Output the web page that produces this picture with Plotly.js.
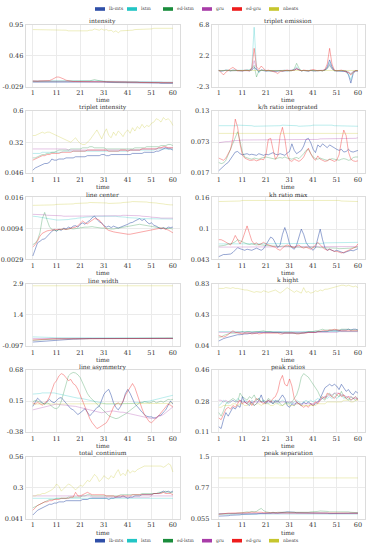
<!DOCTYPE html>
<html><head><meta charset="utf-8">
<script src="https://cdn.plot.ly/plotly-3.0.1.min.js"></script>
<style>html,body{margin:0;padding:0;background:#fff}#chart{width:371px;height:550px}</style>
</head><body><div id="chart"></div>
<script>
const time = [1,2,3,4,5,6,7,8,9,10,11,12,13,14,15,16,17,18,19,20,21,22,23,24,25,26,27,28,29,30,31,32,33,34,35,36,37,38,39,40,41,42,43,44,45,46,47,48,49,50,51,52,53,54,55,56,57,58,59,60];
const seriesNames = ['lb-mts','lstm','ed-lstm','gru','ed-gru','nbeats'];
const xTicks = [1,11,21,31,41,51,60];

// intensity
const intensity_ticks = [-0.029, 0.46, 0.95];
const int_lbmts = [0.04,0.04,0.04,0.04,0.04,0.04,0.04,0.04,0.045,0.05,0.05,0.045,0.04,0.04,0.04,0.04,0.04,0.04,0.04,0.04,0.04,0.04,0.04,0.04,0.045,0.05,0.05,0.045,0.04,0.04,0.04,0.035,0.035,0.03,0.03,0.03,0.03,0.035,0.03,0.03,0.03,0.03,0.03,0.03,0.03,0.03,0.03,0.03,0.03,0.03,0.025,0.025,0.025,0.025,0.02,0.02,0.02,0.02,0.02,0.02];
const int_lstm = [0.06,0.06,0.06,0.06,0.06,0.06,0.06,0.06,0.06,0.065,0.07,0.07,0.065,0.06,0.06,0.06,0.06,0.06,0.06,0.06,0.06,0.06,0.06,0.06,0.06,0.065,0.065,0.06,0.06,0.06,0.055,0.055,0.055,0.05,0.05,0.05,0.05,0.05,0.05,0.05,0.05,0.05,0.05,0.05,0.05,0.05,0.05,0.045,0.045,0.045,0.045,0.045,0.045,0.045,0.045,0.04,0.04,0.04,0.04,0.04];
const int_edlstm = [0.05,0.05,0.05,0.05,0.05,0.05,0.05,0.05,0.05,0.05,0.05,0.05,0.05,0.05,0.05,0.05,0.05,0.05,0.05,0.05,0.05,0.05,0.05,0.055,0.06,0.07,0.08,0.07,0.06,0.05,0.05,0.05,0.045,0.045,0.045,0.04,0.04,0.04,0.04,0.04,0.04,0.04,0.04,0.04,0.04,0.04,0.04,0.04,0.04,0.04,0.04,0.035,0.035,0.035,0.035,0.035,0.035,0.03,0.03,0.03];
const int_gru = [0.055,0.055,0.055,0.055,0.055,0.055,0.055,0.055,0.055,0.055,0.055,0.055,0.055,0.05,0.05,0.05,0.05,0.05,0.05,0.05,0.05,0.05,0.05,0.05,0.05,0.05,0.05,0.05,0.05,0.05,0.045,0.045,0.045,0.045,0.045,0.045,0.045,0.045,0.045,0.045,0.04,0.04,0.04,0.04,0.04,0.04,0.04,0.04,0.04,0.04,0.035,0.035,0.035,0.035,0.035,0.035,0.035,0.035,0.035,0.035];
const int_edgru = [0.06,0.055,0.055,0.06,0.06,0.06,0.06,0.065,0.08,0.1,0.12,0.12,0.11,0.09,0.07,0.06,0.055,0.05,0.05,0.05,0.05,0.05,0.05,0.05,0.05,0.05,0.05,0.05,0.05,0.05,0.045,0.045,0.045,0.045,0.045,0.045,0.04,0.04,0.04,0.04,0.04,0.04,0.04,0.04,0.04,0.035,0.035,0.035,0.035,0.035,0.03,0.03,0.03,0.03,0.03,0.03,0.03,0.03,0.03,0.03];
const int_nbeats = [0.87,0.87,0.87,0.86,0.87,0.87,0.87,0.87,0.86,0.86,0.86,0.87,0.86,0.86,0.86,0.85,0.85,0.85,0.84,0.84,0.84,0.84,0.85,0.85,0.86,0.86,0.88,0.87,0.86,0.88,0.86,0.87,0.85,0.86,0.83,0.85,0.82,0.85,0.85,0.85,0.86,0.86,0.86,0.87,0.87,0.87,0.87,0.88,0.88,0.88,0.88,0.89,0.89,0.89,0.89,0.89,0.89,0.89,0.89,0.89];

// triplet emission
const emission_ticks = [-2.3, 2.2, 6.8];
const te_lbmts = [0.05,-0.05,0.0,0.1,0.05,0.0,0.1,0.05,0.0,-0.05,0.0,0.05,0.1,0.0,0.1,0.5,0.2,-0.1,0.1,0.0,-0.05,0.0,0.05,0.0,-0.1,0.0,0.05,-0.05,0.0,0.05,0.0,0.05,0.1,0.3,0.1,0.0,0.05,0.0,-0.05,0.05,0.0,0.0,0.05,0.0,0.05,0.1,0.6,1.6,0.6,0.05,0.0,0.05,0.0,-0.1,0.0,-0.6,-1.8,-0.4,0.0,-0.05];
const te_lstm = [0.1,0.0,0.05,0.05,0.1,0.05,0.0,0.05,0.1,0.0,0.05,0.1,0.05,0.1,0.5,6.4,0.3,-0.3,0.1,0.05,0.0,0.05,0.0,0.05,0.0,0.05,0.0,0.05,0.1,0.0,0.0,0.05,0.2,0.6,0.2,0.0,0.05,0.0,0.05,0.1,0.0,0.05,0.0,0.05,0.0,0.1,0.4,1.2,0.4,0.0,0.05,0.0,0.05,0.0,-0.2,-0.5,-1.3,-0.2,0.05,0.0];
const te_edlstm = [0.0,0.05,0.0,0.05,0.1,0.0,0.05,0.0,0.05,0.0,0.05,0.0,0.05,0.1,0.3,0.8,-0.9,0.0,0.1,0.05,0.0,0.05,0.0,-0.05,0.05,0.0,0.05,0.0,0.05,0.0,0.05,0.0,0.3,1.1,0.4,0.0,0.05,0.0,0.0,0.05,0.0,0.05,0.0,0.05,0.0,0.1,0.3,0.8,0.3,0.0,0.05,0.0,0.0,0.05,-0.1,-0.2,-0.5,-0.1,0.0,0.05];
const te_gru = [0.05,0.05,0.0,0.05,0.05,0.1,0.05,0.0,0.05,0.05,0.0,0.05,0.05,0.0,0.2,1.5,0.3,0.0,0.1,0.05,0.0,0.05,0.05,0.0,0.05,0.0,0.05,0.05,0.0,0.05,0.05,0.0,0.1,0.4,0.1,0.05,0.0,0.05,0.05,0.0,0.05,0.0,0.05,0.05,0.0,0.1,0.4,1.0,0.3,0.05,0.0,0.05,0.05,0.0,-0.05,-0.2,-0.4,-0.1,0.0,0.05];
const te_edgru = [0.1,-0.2,-0.6,-0.2,0.1,0.3,0.5,0.2,0.0,0.05,0.0,0.1,0.05,0.0,0.4,3.3,0.6,0.2,0.7,0.3,0.0,0.1,0.05,-0.1,-0.2,-0.4,-0.1,0.0,0.05,0.1,0.0,0.05,0.1,0.3,0.1,0.0,0.1,0.05,0.0,0.1,0.2,0.1,0.0,0.05,0.0,0.2,1.0,3.3,1.0,0.1,0.0,0.05,0.1,0.0,-0.1,-0.3,-0.6,-0.2,0.05,0.0];
const te_nbeats = [0.05,0.05,0.0,0.05,0.05,0.05,0.1,0.05,0.05,0.0,0.05,0.05,0.05,0.05,0.1,0.1,0.05,0.05,0.05,0.0,0.05,0.05,0.05,0.05,0.05,0.0,0.05,0.05,0.05,0.05,0.05,0.05,0.05,0.1,0.05,0.05,0.05,0.0,0.05,0.05,0.05,0.05,0.05,0.05,0.05,0.05,0.1,0.1,0.05,0.05,0.05,0.05,0.05,0.0,0.05,0.0,0.0,0.05,0.05,0.05];

// triplet intensity
const tint_ticks = [0.046, 0.32, 0.6];
const ti_lbmts = [0.07,0.09,0.10,0.11,0.12,0.13,0.13,0.14,0.17,0.16,0.16,0.17,0.17,0.17,0.18,0.18,0.18,0.18,0.19,0.19,0.19,0.19,0.19,0.20,0.20,0.20,0.20,0.20,0.20,0.21,0.21,0.20,0.20,0.21,0.21,0.21,0.21,0.21,0.21,0.21,0.21,0.21,0.22,0.22,0.22,0.22,0.22,0.23,0.23,0.23,0.23,0.23,0.24,0.24,0.25,0.26,0.27,0.26,0.26,0.25];
const ti_lstm = [0.22,0.22,0.22,0.22,0.23,0.23,0.23,0.23,0.23,0.23,0.23,0.23,0.23,0.24,0.24,0.24,0.24,0.24,0.24,0.24,0.24,0.24,0.24,0.24,0.24,0.24,0.24,0.24,0.24,0.24,0.24,0.24,0.24,0.24,0.24,0.24,0.24,0.24,0.24,0.24,0.24,0.25,0.25,0.25,0.25,0.25,0.25,0.25,0.25,0.25,0.25,0.25,0.26,0.26,0.26,0.26,0.26,0.26,0.26,0.26];
const ti_edlstm = [0.18,0.18,0.19,0.20,0.21,0.21,0.22,0.22,0.23,0.23,0.24,0.25,0.25,0.25,0.25,0.25,0.26,0.26,0.26,0.26,0.26,0.27,0.27,0.27,0.28,0.28,0.27,0.27,0.27,0.27,0.27,0.26,0.26,0.26,0.26,0.26,0.26,0.26,0.26,0.26,0.26,0.26,0.26,0.27,0.27,0.27,0.27,0.27,0.28,0.28,0.28,0.28,0.28,0.28,0.29,0.29,0.29,0.30,0.30,0.29];
const ti_gru = [0.26,0.26,0.26,0.26,0.26,0.26,0.26,0.26,0.26,0.26,0.26,0.26,0.26,0.26,0.26,0.25,0.25,0.25,0.25,0.25,0.25,0.25,0.25,0.25,0.25,0.25,0.25,0.25,0.25,0.25,0.25,0.25,0.25,0.25,0.25,0.25,0.25,0.25,0.25,0.25,0.25,0.25,0.25,0.25,0.25,0.25,0.26,0.26,0.26,0.26,0.26,0.26,0.26,0.27,0.27,0.27,0.27,0.27,0.27,0.27];
const ti_edgru = [0.16,0.17,0.18,0.19,0.20,0.20,0.21,0.21,0.22,0.22,0.22,0.22,0.23,0.23,0.23,0.23,0.23,0.24,0.24,0.24,0.24,0.24,0.24,0.25,0.25,0.25,0.25,0.25,0.25,0.25,0.25,0.25,0.24,0.24,0.24,0.24,0.24,0.25,0.25,0.25,0.24,0.25,0.25,0.25,0.25,0.25,0.26,0.26,0.26,0.26,0.26,0.26,0.26,0.27,0.27,0.28,0.28,0.27,0.27,0.27];
const ti_nbeats = [0.38,0.38,0.39,0.40,0.41,0.40,0.41,0.41,0.40,0.39,0.38,0.37,0.36,0.35,0.34,0.33,0.32,0.34,0.36,0.33,0.31,0.30,0.30,0.32,0.34,0.37,0.40,0.43,0.39,0.35,0.40,0.44,0.38,0.36,0.41,0.38,0.42,0.40,0.37,0.41,0.43,0.40,0.45,0.42,0.46,0.44,0.48,0.45,0.47,0.46,0.49,0.50,0.53,0.52,0.50,0.54,0.52,0.53,0.51,0.47];

// k/h ratio integrated
const khi_ticks = [0.017, 0.073, 0.13];
const khi_lbmts = [0.021,0.025,0.030,0.033,0.036,0.042,0.048,0.055,0.056,0.052,0.050,0.051,0.052,0.050,0.051,0.050,0.049,0.052,0.050,0.049,0.051,0.050,0.052,0.054,0.051,0.050,0.052,0.051,0.049,0.053,0.056,0.070,0.058,0.052,0.055,0.058,0.066,0.078,0.080,0.072,0.060,0.054,0.068,0.064,0.070,0.066,0.063,0.068,0.065,0.062,0.060,0.058,0.060,0.055,0.056,0.060,0.056,0.055,0.057,0.058];
const khi_lstm = [0.103,0.103,0.103,0.102,0.102,0.102,0.103,0.103,0.104,0.104,0.104,0.104,0.103,0.103,0.103,0.102,0.102,0.102,0.103,0.103,0.103,0.102,0.102,0.102,0.102,0.103,0.103,0.104,0.104,0.104,0.104,0.103,0.103,0.103,0.102,0.102,0.102,0.102,0.103,0.103,0.104,0.104,0.104,0.105,0.105,0.105,0.104,0.104,0.104,0.103,0.103,0.103,0.103,0.102,0.102,0.102,0.102,0.102,0.102,0.102];
const khi_edlstm = [0.036,0.034,0.035,0.040,0.050,0.060,0.070,0.080,0.092,0.075,0.055,0.046,0.044,0.043,0.042,0.044,0.043,0.042,0.044,0.045,0.046,0.045,0.044,0.043,0.042,0.044,0.045,0.044,0.046,0.044,0.043,0.042,0.044,0.045,0.043,0.047,0.052,0.058,0.060,0.052,0.046,0.043,0.042,0.044,0.042,0.041,0.040,0.041,0.043,0.042,0.041,0.040,0.042,0.043,0.042,0.040,0.041,0.045,0.046,0.046];
const khi_gru = [0.072,0.073,0.073,0.074,0.074,0.075,0.075,0.076,0.076,0.077,0.077,0.077,0.077,0.077,0.077,0.077,0.077,0.078,0.078,0.078,0.078,0.078,0.078,0.078,0.078,0.078,0.078,0.078,0.078,0.078,0.078,0.078,0.078,0.078,0.078,0.078,0.078,0.078,0.078,0.078,0.078,0.078,0.078,0.079,0.079,0.079,0.079,0.079,0.079,0.079,0.079,0.079,0.079,0.080,0.080,0.080,0.080,0.080,0.080,0.081];
const khi_edgru = [0.044,0.042,0.040,0.044,0.052,0.060,0.080,0.115,0.100,0.070,0.050,0.044,0.042,0.040,0.040,0.041,0.039,0.040,0.042,0.041,0.050,0.078,0.080,0.060,0.042,0.048,0.085,0.100,0.080,0.050,0.040,0.038,0.042,0.040,0.038,0.041,0.046,0.055,0.062,0.052,0.044,0.040,0.048,0.042,0.040,0.038,0.039,0.042,0.040,0.038,0.040,0.050,0.075,0.095,0.085,0.055,0.042,0.039,0.038,0.039];
const khi_nbeats = [0.089,0.089,0.089,0.089,0.089,0.089,0.089,0.089,0.089,0.089,0.089,0.089,0.089,0.089,0.089,0.088,0.088,0.088,0.088,0.088,0.088,0.088,0.088,0.088,0.088,0.088,0.089,0.089,0.089,0.089,0.089,0.089,0.089,0.089,0.089,0.089,0.089,0.089,0.089,0.089,0.089,0.089,0.089,0.089,0.089,0.089,0.089,0.089,0.089,0.089,0.089,0.089,0.089,0.089,0.089,0.089,0.089,0.089,0.089,0.089];

// line center
const lc_ticks = [0.0029, 0.0094, 0.016];
const lc_lbmts = [0.0036,0.0050,0.0064,0.0067,0.0071,0.0072,0.0078,0.0083,0.0088,0.0092,0.0088,0.0093,0.0090,0.0095,0.0093,0.0097,0.0095,0.0099,0.0100,0.0097,0.0103,0.0106,0.0103,0.0108,0.0111,0.0117,0.0120,0.0114,0.0108,0.0106,0.0100,0.0097,0.0099,0.0096,0.0099,0.0097,0.0095,0.0097,0.0099,0.0100,0.0103,0.0106,0.0107,0.0110,0.0113,0.0115,0.0111,0.0114,0.0108,0.0104,0.0106,0.0101,0.0099,0.0095,0.0093,0.0096,0.0093,0.0097,0.0096,0.0097];
const lc_lstm = [0.0120,0.0120,0.0119,0.0118,0.0117,0.0116,0.0115,0.0114,0.0113,0.0113,0.0112,0.0112,0.0112,0.0112,0.0113,0.0113,0.0114,0.0114,0.0115,0.0116,0.0116,0.0117,0.0118,0.0118,0.0119,0.0119,0.0120,0.0120,0.0121,0.0121,0.0121,0.0121,0.0121,0.0120,0.0120,0.0120,0.0119,0.0119,0.0118,0.0118,0.0117,0.0117,0.0116,0.0116,0.0116,0.0115,0.0115,0.0115,0.0115,0.0115,0.0115,0.0115,0.0115,0.0115,0.0115,0.0115,0.0115,0.0114,0.0114,0.0114];
const lc_edlstm = [0.0060,0.0063,0.0070,0.0085,0.0115,0.0128,0.0112,0.0098,0.0092,0.0090,0.0090,0.0091,0.0092,0.0093,0.0092,0.0093,0.0094,0.0093,0.0094,0.0095,0.0095,0.0096,0.0097,0.0097,0.0098,0.0098,0.0097,0.0096,0.0096,0.0095,0.0095,0.0094,0.0094,0.0093,0.0093,0.0094,0.0094,0.0095,0.0096,0.0097,0.0098,0.0099,0.0100,0.0101,0.0102,0.0103,0.0102,0.0101,0.0100,0.0099,0.0098,0.0097,0.0096,0.0096,0.0095,0.0095,0.0094,0.0094,0.0094,0.0093];
const lc_gru = [0.0124,0.0124,0.0124,0.0123,0.0123,0.0123,0.0122,0.0122,0.0122,0.0121,0.0121,0.0121,0.0121,0.0120,0.0120,0.0120,0.0120,0.0120,0.0120,0.0120,0.0120,0.0120,0.0121,0.0121,0.0121,0.0121,0.0121,0.0121,0.0121,0.0121,0.0121,0.0121,0.0121,0.0121,0.0121,0.0121,0.0121,0.0121,0.0122,0.0122,0.0122,0.0122,0.0122,0.0122,0.0121,0.0121,0.0120,0.0120,0.0119,0.0119,0.0118,0.0118,0.0117,0.0117,0.0116,0.0116,0.0116,0.0116,0.0116,0.0116];
const lc_edgru = [0.0055,0.0060,0.0068,0.0078,0.0084,0.0087,0.0089,0.0090,0.0091,0.0092,0.0092,0.0092,0.0093,0.0093,0.0092,0.0093,0.0094,0.0095,0.0097,0.0100,0.0105,0.0110,0.0106,0.0104,0.0108,0.0112,0.0115,0.0114,0.0112,0.0105,0.0098,0.0093,0.0090,0.0088,0.0087,0.0086,0.0085,0.0084,0.0083,0.0083,0.0082,0.0082,0.0083,0.0084,0.0085,0.0086,0.0087,0.0088,0.0089,0.0090,0.0091,0.0092,0.0093,0.0094,0.0095,0.0094,0.0093,0.0091,0.0088,0.0085];
const lc_nbeats = [0.0143,0.0143,0.0143,0.0143,0.0143,0.0144,0.0144,0.0144,0.0144,0.0144,0.0145,0.0145,0.0145,0.0145,0.0146,0.0146,0.0146,0.0146,0.0147,0.0147,0.0147,0.0148,0.0148,0.0148,0.0149,0.0149,0.0149,0.0149,0.0149,0.0148,0.0148,0.0148,0.0147,0.0147,0.0147,0.0147,0.0148,0.0148,0.0149,0.0149,0.0150,0.0150,0.0151,0.0151,0.0151,0.0151,0.0151,0.0150,0.0150,0.0149,0.0149,0.0148,0.0148,0.0147,0.0147,0.0146,0.0145,0.0144,0.0144,0.0144];

// kh ratio max
const khm_ticks = [0.043, 0.1, 0.16];
const khm_lbmts = [0.048,0.050,0.052,0.052,0.053,0.053,0.056,0.060,0.065,0.063,0.061,0.060,0.062,0.061,0.060,0.062,0.064,0.062,0.060,0.063,0.070,0.078,0.085,0.082,0.072,0.065,0.070,0.090,0.103,0.090,0.072,0.065,0.062,0.070,0.085,0.100,0.090,0.075,0.068,0.063,0.060,0.065,0.085,0.100,0.080,0.065,0.060,0.062,0.060,0.058,0.060,0.058,0.056,0.055,0.057,0.058,0.060,0.059,0.061,0.063];
const khm_lstm = [0.072,0.072,0.072,0.072,0.073,0.073,0.073,0.073,0.073,0.073,0.073,0.073,0.073,0.073,0.073,0.073,0.073,0.073,0.073,0.072,0.072,0.072,0.072,0.072,0.072,0.072,0.072,0.072,0.072,0.072,0.072,0.072,0.072,0.072,0.072,0.073,0.073,0.073,0.073,0.073,0.073,0.073,0.073,0.073,0.073,0.074,0.074,0.074,0.074,0.074,0.074,0.074,0.075,0.075,0.075,0.075,0.075,0.075,0.075,0.075];
const khm_edlstm = [0.068,0.068,0.069,0.070,0.072,0.072,0.074,0.076,0.080,0.078,0.075,0.073,0.072,0.071,0.072,0.071,0.070,0.071,0.070,0.070,0.069,0.069,0.068,0.068,0.068,0.067,0.067,0.068,0.068,0.067,0.067,0.066,0.066,0.066,0.066,0.067,0.067,0.066,0.066,0.066,0.066,0.066,0.066,0.065,0.065,0.065,0.065,0.064,0.064,0.064,0.064,0.063,0.063,0.063,0.063,0.064,0.064,0.065,0.066,0.066];
const khm_gru = [0.066,0.066,0.066,0.066,0.066,0.066,0.066,0.066,0.066,0.066,0.066,0.066,0.066,0.066,0.066,0.066,0.066,0.066,0.066,0.066,0.066,0.066,0.066,0.066,0.066,0.066,0.066,0.066,0.066,0.066,0.066,0.066,0.066,0.066,0.066,0.066,0.066,0.066,0.066,0.066,0.066,0.066,0.066,0.066,0.066,0.066,0.066,0.066,0.066,0.066,0.066,0.066,0.066,0.066,0.066,0.066,0.066,0.067,0.067,0.067];
const khm_edgru = [0.080,0.080,0.078,0.075,0.072,0.070,0.078,0.088,0.080,0.072,0.080,0.095,0.106,0.092,0.078,0.072,0.074,0.070,0.072,0.075,0.072,0.070,0.068,0.067,0.066,0.062,0.060,0.065,0.068,0.070,0.068,0.066,0.065,0.068,0.070,0.066,0.064,0.066,0.064,0.062,0.065,0.070,0.075,0.070,0.065,0.062,0.060,0.062,0.060,0.058,0.058,0.056,0.055,0.056,0.058,0.060,0.062,0.063,0.066,0.072];
const khm_nbeats = [0.152,0.152,0.152,0.152,0.153,0.153,0.153,0.153,0.153,0.153,0.154,0.154,0.154,0.154,0.154,0.155,0.155,0.155,0.155,0.155,0.155,0.155,0.155,0.155,0.155,0.155,0.155,0.155,0.155,0.155,0.155,0.155,0.155,0.155,0.154,0.154,0.154,0.154,0.154,0.154,0.154,0.154,0.154,0.154,0.154,0.154,0.154,0.154,0.154,0.154,0.154,0.154,0.153,0.153,0.153,0.153,0.153,0.152,0.152,0.152];

// line width
const lw_ticks = [-0.097, 1.4, 2.9];
const lw_lbmts = [0.08,0.09,0.10,0.11,0.12,0.13,0.14,0.15,0.16,0.17,0.18,0.19,0.19,0.20,0.20,0.21,0.21,0.22,0.22,0.23,0.23,0.23,0.24,0.24,0.25,0.25,0.25,0.25,0.25,0.25,0.25,0.25,0.25,0.25,0.25,0.25,0.25,0.25,0.25,0.25,0.25,0.25,0.25,0.25,0.25,0.25,0.25,0.25,0.25,0.25,0.25,0.25,0.25,0.25,0.25,0.25,0.25,0.25,0.25,0.25];
const lw_lstm = [0.33,0.33,0.32,0.32,0.31,0.31,0.30,0.30,0.30,0.29,0.29,0.29,0.29,0.28,0.28,0.28,0.28,0.28,0.28,0.28,0.28,0.28,0.28,0.28,0.28,0.28,0.28,0.28,0.28,0.28,0.28,0.28,0.28,0.28,0.28,0.28,0.28,0.28,0.28,0.28,0.28,0.28,0.28,0.28,0.28,0.28,0.28,0.28,0.28,0.28,0.28,0.28,0.28,0.28,0.28,0.28,0.28,0.28,0.28,0.28];
const lw_edlstm = [0.16,0.17,0.18,0.19,0.20,0.21,0.21,0.22,0.22,0.23,0.23,0.24,0.24,0.24,0.25,0.25,0.25,0.26,0.26,0.26,0.26,0.26,0.26,0.27,0.27,0.27,0.27,0.27,0.27,0.27,0.27,0.27,0.27,0.27,0.27,0.27,0.27,0.27,0.27,0.27,0.27,0.27,0.27,0.27,0.27,0.27,0.27,0.27,0.27,0.27,0.27,0.27,0.27,0.27,0.27,0.27,0.27,0.27,0.27,0.27];
const lw_gru = [0.25,0.25,0.25,0.25,0.25,0.25,0.25,0.25,0.25,0.25,0.25,0.25,0.25,0.25,0.25,0.25,0.25,0.25,0.25,0.25,0.25,0.25,0.25,0.25,0.25,0.25,0.25,0.25,0.25,0.25,0.25,0.25,0.25,0.25,0.25,0.25,0.25,0.25,0.25,0.25,0.25,0.25,0.25,0.25,0.25,0.25,0.25,0.25,0.25,0.25,0.25,0.25,0.25,0.25,0.25,0.25,0.25,0.25,0.25,0.25];
const lw_edgru = [0.18,0.19,0.19,0.20,0.21,0.21,0.22,0.22,0.23,0.23,0.23,0.24,0.24,0.24,0.24,0.25,0.25,0.25,0.25,0.25,0.25,0.26,0.26,0.26,0.26,0.26,0.26,0.26,0.26,0.26,0.26,0.26,0.26,0.26,0.26,0.26,0.26,0.26,0.26,0.26,0.26,0.26,0.26,0.26,0.26,0.26,0.26,0.26,0.26,0.26,0.26,0.26,0.26,0.26,0.26,0.26,0.26,0.26,0.26,0.26];
const lw_nbeats = [2.80,2.80,2.80,2.80,2.80,2.80,2.80,2.80,2.81,2.81,2.81,2.81,2.81,2.81,2.81,2.81,2.81,2.81,2.81,2.81,2.81,2.81,2.81,2.81,2.81,2.81,2.81,2.81,2.81,2.81,2.81,2.81,2.81,2.81,2.81,2.81,2.81,2.80,2.80,2.80,2.80,2.80,2.79,2.79,2.79,2.78,2.78,2.78,2.78,2.78,2.78,2.78,2.79,2.79,2.79,2.79,2.80,2.80,2.80,2.80];

// k hight
const kh_ticks = [0.04, 0.43, 0.83];
const kh_lbmts = [0.10,0.12,0.13,0.14,0.15,0.16,0.17,0.17,0.18,0.18,0.19,0.19,0.19,0.20,0.20,0.20,0.20,0.21,0.21,0.21,0.21,0.21,0.21,0.21,0.21,0.21,0.21,0.20,0.20,0.20,0.20,0.20,0.20,0.20,0.20,0.20,0.20,0.21,0.21,0.21,0.21,0.21,0.22,0.22,0.22,0.22,0.22,0.23,0.23,0.23,0.23,0.23,0.24,0.24,0.24,0.25,0.24,0.25,0.25,0.24];
const kh_lstm = [0.22,0.22,0.22,0.22,0.22,0.22,0.22,0.22,0.22,0.22,0.22,0.22,0.22,0.22,0.22,0.22,0.22,0.22,0.22,0.22,0.22,0.22,0.22,0.22,0.22,0.22,0.22,0.22,0.22,0.22,0.22,0.22,0.22,0.22,0.22,0.22,0.22,0.22,0.22,0.22,0.22,0.22,0.22,0.22,0.22,0.22,0.22,0.22,0.22,0.22,0.22,0.22,0.22,0.22,0.22,0.22,0.22,0.22,0.22,0.22];
const kh_edlstm = [0.15,0.15,0.17,0.18,0.19,0.20,0.20,0.20,0.21,0.21,0.22,0.21,0.22,0.22,0.21,0.22,0.22,0.22,0.23,0.23,0.22,0.22,0.22,0.21,0.21,0.21,0.21,0.21,0.21,0.21,0.21,0.21,0.20,0.20,0.20,0.20,0.21,0.21,0.22,0.22,0.22,0.23,0.23,0.24,0.25,0.24,0.24,0.24,0.24,0.24,0.24,0.24,0.25,0.25,0.25,0.25,0.24,0.24,0.24,0.24];
const kh_gru = [0.21,0.21,0.21,0.21,0.21,0.21,0.21,0.21,0.21,0.21,0.21,0.21,0.21,0.21,0.21,0.21,0.21,0.21,0.21,0.21,0.21,0.21,0.21,0.21,0.21,0.21,0.21,0.21,0.21,0.21,0.21,0.21,0.21,0.21,0.21,0.21,0.21,0.21,0.21,0.21,0.21,0.21,0.21,0.21,0.21,0.21,0.21,0.21,0.21,0.21,0.21,0.22,0.22,0.22,0.22,0.22,0.22,0.22,0.22,0.22];
const kh_edgru = [0.17,0.16,0.15,0.16,0.18,0.20,0.23,0.21,0.20,0.19,0.19,0.20,0.20,0.20,0.19,0.20,0.20,0.19,0.20,0.20,0.20,0.20,0.20,0.20,0.20,0.20,0.19,0.19,0.20,0.20,0.20,0.20,0.20,0.19,0.19,0.20,0.20,0.20,0.21,0.21,0.21,0.21,0.22,0.22,0.23,0.23,0.23,0.24,0.24,0.25,0.24,0.24,0.23,0.23,0.23,0.23,0.23,0.23,0.23,0.23];
const kh_nbeats = [0.77,0.77,0.77,0.78,0.77,0.77,0.78,0.77,0.77,0.76,0.76,0.75,0.75,0.74,0.73,0.72,0.73,0.72,0.72,0.74,0.73,0.72,0.73,0.74,0.75,0.73,0.71,0.73,0.76,0.78,0.76,0.74,0.72,0.74,0.73,0.71,0.78,0.72,0.73,0.71,0.72,0.74,0.73,0.75,0.74,0.76,0.76,0.77,0.78,0.79,0.79,0.80,0.81,0.81,0.80,0.81,0.80,0.79,0.80,0.78];

// line asymmetry
const la_ticks = [-0.38, 0.15, 0.68];
const la_lbmts = [0.06,0.12,0.20,0.16,0.12,0.10,0.14,0.18,0.14,0.12,0.16,0.20,0.21,0.16,0.12,0.06,0.02,0.00,-0.04,-0.08,-0.05,-0.02,0.02,-0.04,-0.10,-0.06,0.00,0.04,0.06,0.18,0.27,0.32,0.35,0.25,0.12,0.04,0.00,0.06,0.14,0.28,0.35,0.28,0.18,0.10,0.06,0.00,-0.04,-0.08,-0.11,-0.12,-0.12,-0.14,-0.14,-0.10,-0.09,-0.04,0.00,0.08,0.15,0.10];
const la_lstm = [0.27,0.27,0.28,0.28,0.29,0.29,0.30,0.30,0.30,0.29,0.28,0.27,0.26,0.25,0.25,0.24,0.23,0.22,0.21,0.20,0.20,0.19,0.18,0.17,0.16,0.15,0.14,0.13,0.12,0.11,0.10,0.10,0.10,0.10,0.10,0.10,0.10,0.10,0.10,0.10,0.10,0.11,0.11,0.12,0.12,0.13,0.13,0.14,0.14,0.15,0.16,0.17,0.18,0.19,0.20,0.21,0.22,0.23,0.24,0.25];
const la_edlstm = [0.14,0.16,0.15,0.13,0.12,0.10,0.12,0.10,0.06,0.03,0.02,0.05,0.15,0.30,0.45,0.58,0.62,0.64,0.63,0.60,0.55,0.45,0.35,0.28,0.22,0.18,0.14,0.10,0.06,0.02,-0.03,-0.07,-0.10,-0.12,-0.14,-0.15,-0.14,-0.12,-0.10,-0.07,-0.04,-0.01,0.03,0.06,0.09,0.12,0.12,0.14,0.13,0.12,0.13,0.15,0.12,0.14,0.15,0.13,0.16,0.18,0.17,0.18];
const la_gru = [0.00,0.01,0.02,0.03,0.05,0.06,0.07,0.08,0.09,0.10,0.10,0.09,0.09,0.08,0.08,0.07,0.07,0.06,0.06,0.05,0.04,0.03,0.02,0.01,0.00,-0.01,-0.02,-0.03,-0.04,-0.05,-0.04,-0.03,-0.02,-0.02,-0.02,-0.03,-0.03,-0.04,-0.04,-0.05,-0.06,-0.07,-0.08,-0.09,-0.10,-0.11,-0.12,-0.13,-0.14,-0.15,-0.15,-0.14,-0.13,-0.12,-0.10,-0.08,-0.05,-0.02,0.02,0.05];
const la_edgru = [0.12,0.10,0.13,0.10,0.08,0.12,0.15,0.22,0.35,0.45,0.50,0.58,0.62,0.60,0.55,0.50,0.52,0.45,0.42,0.35,0.25,0.15,0.05,-0.08,-0.15,-0.22,-0.28,-0.32,-0.30,-0.27,-0.25,-0.22,-0.15,-0.05,0.05,0.10,0.12,0.08,0.15,0.25,0.32,0.40,0.45,0.38,0.25,0.12,0.02,-0.08,-0.15,-0.20,-0.22,-0.18,-0.15,-0.10,-0.05,0.00,0.05,0.10,0.08,0.05];
const la_nbeats = [0.10,0.10,0.10,0.10,0.10,0.11,0.11,0.11,0.11,0.11,0.11,0.11,0.11,0.11,0.11,0.11,0.11,0.11,0.11,0.11,0.11,0.11,0.10,0.10,0.10,0.10,0.10,0.10,0.10,0.10,0.10,0.10,0.10,0.10,0.10,0.10,0.10,0.10,0.10,0.10,0.10,0.10,0.10,0.10,0.10,0.10,0.10,0.10,0.10,0.10,0.10,0.10,0.10,0.10,0.10,0.10,0.11,0.11,0.12,0.12];

// peak ratios
const pr_ticks = [0.11, 0.28, 0.46];
const pr_lbmts = [0.14,0.13,0.18,0.22,0.20,0.23,0.25,0.24,0.26,0.25,0.31,0.28,0.27,0.26,0.28,0.26,0.27,0.29,0.32,0.28,0.27,0.29,0.28,0.27,0.29,0.28,0.30,0.32,0.30,0.26,0.25,0.27,0.26,0.28,0.27,0.26,0.28,0.27,0.28,0.27,0.26,0.27,0.28,0.30,0.33,0.36,0.37,0.38,0.37,0.38,0.37,0.35,0.38,0.36,0.34,0.35,0.33,0.32,0.34,0.33];
const pr_lstm = [0.26,0.27,0.29,0.28,0.27,0.28,0.29,0.28,0.30,0.29,0.28,0.29,0.28,0.27,0.29,0.28,0.29,0.30,0.28,0.29,0.28,0.27,0.28,0.29,0.28,0.27,0.28,0.29,0.28,0.27,0.28,0.27,0.28,0.29,0.28,0.27,0.28,0.29,0.28,0.29,0.28,0.29,0.30,0.29,0.30,0.31,0.30,0.31,0.30,0.31,0.30,0.31,0.32,0.30,0.31,0.30,0.29,0.30,0.31,0.30];
const pr_edlstm = [0.22,0.20,0.23,0.27,0.28,0.29,0.30,0.29,0.28,0.33,0.31,0.30,0.29,0.31,0.30,0.32,0.29,0.30,0.28,0.29,0.28,0.30,0.29,0.27,0.28,0.29,0.27,0.26,0.27,0.28,0.27,0.28,0.30,0.32,0.36,0.42,0.44,0.43,0.42,0.40,0.38,0.36,0.34,0.31,0.30,0.29,0.32,0.33,0.31,0.33,0.32,0.31,0.34,0.31,0.30,0.29,0.31,0.30,0.29,0.30];
const pr_gru = [0.29,0.29,0.28,0.29,0.28,0.28,0.29,0.28,0.28,0.29,0.28,0.28,0.28,0.28,0.28,0.28,0.28,0.28,0.28,0.28,0.28,0.28,0.28,0.28,0.28,0.28,0.28,0.28,0.28,0.28,0.28,0.28,0.27,0.27,0.27,0.27,0.27,0.27,0.27,0.27,0.27,0.28,0.28,0.29,0.30,0.31,0.31,0.32,0.32,0.33,0.33,0.33,0.32,0.32,0.31,0.31,0.31,0.30,0.30,0.30];
const pr_edgru = [0.19,0.18,0.21,0.24,0.25,0.24,0.26,0.25,0.27,0.29,0.27,0.28,0.27,0.29,0.26,0.28,0.30,0.29,0.28,0.27,0.28,0.29,0.28,0.30,0.31,0.34,0.40,0.43,0.38,0.37,0.41,0.37,0.30,0.28,0.27,0.26,0.25,0.26,0.25,0.27,0.26,0.28,0.27,0.29,0.31,0.30,0.33,0.32,0.31,0.30,0.32,0.33,0.31,0.32,0.30,0.31,0.29,0.30,0.31,0.29];
const pr_nbeats = [0.25,0.25,0.26,0.26,0.26,0.26,0.27,0.27,0.26,0.27,0.27,0.26,0.26,0.27,0.27,0.26,0.27,0.27,0.26,0.27,0.27,0.27,0.26,0.26,0.27,0.27,0.26,0.26,0.27,0.27,0.26,0.26,0.26,0.27,0.27,0.26,0.26,0.26,0.26,0.26,0.26,0.26,0.27,0.27,0.27,0.27,0.28,0.28,0.28,0.28,0.28,0.28,0.28,0.29,0.29,0.29,0.28,0.28,0.29,0.29];

// total_continium
const tc_ticks = [0.041, 0.3, 0.56];
const tc_lbmts = [0.07,0.09,0.11,0.12,0.13,0.14,0.15,0.16,0.16,0.17,0.17,0.18,0.18,0.18,0.19,0.19,0.19,0.19,0.19,0.19,0.19,0.20,0.20,0.20,0.21,0.21,0.21,0.21,0.21,0.21,0.21,0.21,0.20,0.21,0.21,0.22,0.22,0.22,0.23,0.22,0.21,0.22,0.22,0.23,0.23,0.23,0.24,0.24,0.24,0.24,0.24,0.25,0.25,0.25,0.26,0.27,0.26,0.27,0.26,0.27];
const tc_lstm = [0.21,0.21,0.21,0.21,0.21,0.21,0.21,0.21,0.21,0.21,0.21,0.21,0.21,0.21,0.21,0.21,0.21,0.21,0.21,0.21,0.21,0.21,0.21,0.21,0.21,0.21,0.21,0.21,0.21,0.21,0.21,0.21,0.21,0.21,0.21,0.21,0.21,0.21,0.21,0.21,0.21,0.21,0.21,0.21,0.21,0.21,0.21,0.21,0.21,0.21,0.21,0.21,0.21,0.21,0.21,0.21,0.21,0.21,0.21,0.21];
const tc_edlstm = [0.13,0.14,0.15,0.16,0.17,0.18,0.19,0.20,0.20,0.20,0.21,0.21,0.21,0.21,0.21,0.22,0.22,0.22,0.22,0.22,0.22,0.23,0.23,0.24,0.24,0.23,0.23,0.23,0.23,0.23,0.23,0.23,0.23,0.23,0.23,0.23,0.23,0.24,0.24,0.24,0.24,0.24,0.24,0.24,0.24,0.24,0.25,0.25,0.25,0.25,0.25,0.25,0.25,0.26,0.26,0.26,0.27,0.26,0.26,0.26];
const tc_gru = [0.23,0.23,0.23,0.23,0.23,0.23,0.23,0.23,0.23,0.23,0.23,0.23,0.23,0.23,0.23,0.23,0.23,0.23,0.23,0.23,0.23,0.23,0.23,0.23,0.23,0.22,0.22,0.22,0.22,0.22,0.22,0.22,0.22,0.22,0.22,0.22,0.22,0.22,0.22,0.22,0.22,0.22,0.22,0.22,0.22,0.22,0.22,0.22,0.22,0.22,0.23,0.23,0.23,0.23,0.23,0.23,0.23,0.23,0.23,0.23];
const tc_edgru = [0.11,0.13,0.15,0.16,0.17,0.18,0.18,0.19,0.19,0.20,0.20,0.20,0.21,0.21,0.21,0.21,0.22,0.22,0.26,0.23,0.23,0.24,0.25,0.26,0.25,0.24,0.24,0.24,0.24,0.24,0.24,0.23,0.23,0.23,0.23,0.22,0.23,0.23,0.23,0.23,0.23,0.23,0.24,0.24,0.24,0.24,0.24,0.24,0.24,0.24,0.24,0.25,0.25,0.25,0.25,0.26,0.25,0.25,0.25,0.24];
const tc_nbeats = [0.23,0.23,0.24,0.24,0.25,0.25,0.26,0.27,0.28,0.30,0.33,0.31,0.27,0.29,0.31,0.33,0.32,0.30,0.28,0.30,0.32,0.31,0.34,0.36,0.35,0.38,0.41,0.39,0.35,0.37,0.40,0.38,0.37,0.40,0.38,0.42,0.45,0.40,0.42,0.40,0.45,0.42,0.44,0.43,0.45,0.46,0.47,0.48,0.48,0.48,0.48,0.48,0.48,0.48,0.48,0.47,0.48,0.50,0.49,0.43];

// peak separation
const ps_ticks = [0.055, 0.77, 1.5];
const ps_lbmts = [0.11,0.11,0.12,0.12,0.12,0.13,0.13,0.14,0.14,0.14,0.15,0.15,0.15,0.15,0.16,0.16,0.16,0.17,0.17,0.17,0.17,0.17,0.18,0.19,0.18,0.18,0.19,0.19,0.20,0.21,0.21,0.20,0.20,0.19,0.19,0.19,0.19,0.19,0.19,0.18,0.18,0.18,0.18,0.18,0.18,0.18,0.18,0.17,0.17,0.17,0.17,0.17,0.17,0.17,0.17,0.17,0.17,0.17,0.18,0.18];
const ps_lstm = [0.16,0.16,0.16,0.16,0.16,0.16,0.16,0.16,0.16,0.16,0.16,0.16,0.16,0.16,0.16,0.16,0.16,0.16,0.16,0.16,0.16,0.16,0.16,0.16,0.16,0.16,0.16,0.16,0.16,0.16,0.16,0.16,0.16,0.16,0.16,0.16,0.16,0.16,0.16,0.16,0.16,0.16,0.16,0.16,0.16,0.16,0.16,0.16,0.16,0.16,0.16,0.16,0.16,0.16,0.16,0.16,0.16,0.16,0.16,0.16];
const ps_edlstm = [0.16,0.16,0.17,0.17,0.17,0.17,0.17,0.17,0.18,0.18,0.19,0.20,0.21,0.20,0.22,0.21,0.22,0.26,0.29,0.24,0.21,0.20,0.19,0.20,0.19,0.20,0.20,0.19,0.19,0.20,0.20,0.20,0.20,0.20,0.20,0.20,0.20,0.20,0.20,0.21,0.21,0.21,0.22,0.23,0.23,0.23,0.22,0.21,0.21,0.21,0.21,0.22,0.22,0.22,0.22,0.21,0.20,0.20,0.19,0.19];
const ps_gru = [0.17,0.17,0.17,0.17,0.17,0.17,0.17,0.17,0.17,0.17,0.17,0.17,0.17,0.17,0.17,0.17,0.17,0.17,0.17,0.17,0.17,0.17,0.17,0.17,0.17,0.17,0.17,0.17,0.17,0.17,0.17,0.17,0.17,0.17,0.17,0.17,0.17,0.17,0.17,0.17,0.17,0.17,0.17,0.17,0.17,0.17,0.17,0.17,0.17,0.17,0.17,0.17,0.17,0.17,0.17,0.17,0.17,0.17,0.17,0.17];
const ps_edgru = [0.15,0.16,0.17,0.17,0.18,0.18,0.18,0.18,0.18,0.18,0.19,0.19,0.19,0.20,0.20,0.21,0.20,0.20,0.20,0.19,0.19,0.19,0.19,0.19,0.19,0.19,0.19,0.19,0.19,0.19,0.19,0.19,0.19,0.19,0.19,0.19,0.19,0.19,0.19,0.19,0.19,0.19,0.19,0.19,0.19,0.19,0.19,0.18,0.18,0.18,0.18,0.18,0.18,0.18,0.18,0.18,0.18,0.18,0.18,0.18];
const ps_nbeats = [1.0,1.0,1.0,1.0,1.0,1.0,1.0,1.0,1.0,1.0,1.0,1.0,1.0,1.0,1.0,1.0,1.0,1.0,1.0,1.0,1.0,1.0,1.0,1.0,1.0,1.0,1.0,1.0,1.0,1.0,1.0,1.0,1.0,1.0,1.0,1.0,1.0,1.0,1.0,1.0,1.0,1.0,1.0,1.0,1.0,1.0,1.0,1.0,1.0,1.0,1.0,1.0,1.0,1.0,1.0,1.0,1.0,1.0,1.0,1.0];

const panels = [
  {title:'intensity', ticks:intensity_ticks, series:[int_lbmts,int_lstm,int_edlstm,int_gru,int_edgru,int_nbeats]},
  {title:'triplet emission', ticks:emission_ticks, series:[te_lbmts,te_lstm,te_edlstm,te_gru,te_edgru,te_nbeats]},
  {title:'triplet intensity', ticks:tint_ticks, series:[ti_lbmts,ti_lstm,ti_edlstm,ti_gru,ti_edgru,ti_nbeats]},
  {title:'k/h ratio integrated', ticks:khi_ticks, series:[khi_lbmts,khi_lstm,khi_edlstm,khi_gru,khi_edgru,khi_nbeats]},
  {title:'line center', ticks:lc_ticks, series:[lc_lbmts,lc_lstm,lc_edlstm,lc_gru,lc_edgru,lc_nbeats]},
  {title:'kh ratio max', ticks:khm_ticks, series:[khm_lbmts,khm_lstm,khm_edlstm,khm_gru,khm_edgru,khm_nbeats]},
  {title:'line width', ticks:lw_ticks, series:[lw_lbmts,lw_lstm,lw_edlstm,lw_gru,lw_edgru,lw_nbeats]},
  {title:'k hight', ticks:kh_ticks, series:[kh_lbmts,kh_lstm,kh_edlstm,kh_gru,kh_edgru,kh_nbeats]},
  {title:'line asymmetry', ticks:la_ticks, series:[la_lbmts,la_lstm,la_edlstm,la_gru,la_edgru,la_nbeats]},
  {title:'peak ratios', ticks:pr_ticks, series:[pr_lbmts,pr_lstm,pr_edlstm,pr_gru,pr_edgru,pr_nbeats]},
  {title:'total_continium', ticks:tc_ticks, series:[tc_lbmts,tc_lstm,tc_edlstm,tc_gru,tc_edgru,tc_nbeats]},
  {title:'peak separation', ticks:ps_ticks, series:[ps_lbmts,ps_lstm,ps_edlstm,ps_gru,ps_edgru,ps_nbeats]}
];

// styling
const colors = ['#2f4fa8','#22c5c5','#1a8c3c','#a83ca8','#ee1c1c','#c6c62e'];
const lineOpacity = [0.5, 0.3, 0.3, 0.3, 0.38, 0.3];
const W = 371, H = 550;
const FONT = 'DejaVu Serif';
const colX = [[25.7,180],[211.7,365]];
const rowTop0 = 24.5, rowStep = 86.4, plotH = 62;

const traces = [];
const layout = {
  width: W, height: H,
  margin: {l:0, r:0, t:0, b:0},
  paper_bgcolor: '#fff', plot_bgcolor: '#fff',
  showlegend: false,
  font: {family: FONT, size: 6.5, color: '#333'},
  annotations: [], shapes: []
};

panels.forEach((p, i) => {
  const row = Math.floor(i/2), col = i % 2;
  const xs = colX[col];
  const top = rowTop0 + row*rowStep, bot = top + plotH;
  const xd = [xs[0]/W, xs[1]/W];
  const yd = [1 - bot/H, 1 - top/H];
  const n = i + 1;
  const sfx = (n === 1 ? '' : String(n));
  layout['xaxis' + sfx] = {
    domain: xd, anchor: 'y' + sfx, range: [-2, 63],
    tickmode: 'array', tickvals: xTicks, ticktext: xTicks.map(String),
    showgrid: true, gridcolor: '#ebebeb', gridwidth: 1, zeroline: false,
    showline: true, linecolor: '#dcdcdc', linewidth: 1, mirror: true,
    ticks: '', tickfont: {family: FONT, size: 6.5, color: '#333'}, fixedrange: true
  };
  layout['yaxis' + sfx] = {
    domain: yd, anchor: 'x' + sfx, range: [p.ticks[0], p.ticks[2]],
    tickmode: 'array', tickvals: p.ticks, ticktext: p.ticks.map(String),
    showgrid: true, gridcolor: '#ebebeb', gridwidth: 1, zeroline: false,
    showline: true, linecolor: '#dcdcdc', linewidth: 1, mirror: true,
    ticks: '', tickfont: {family: FONT, size: 6.5, color: '#333'}, fixedrange: true
  };
  p.series.forEach((vals, k) => {
    traces.push({
      type: 'scatter', mode: 'lines', x: time, y: vals,
      name: seriesNames[k], xaxis: 'x' + sfx, yaxis: 'y' + sfx,
      line: {color: colors[k], width: 1}, opacity: lineOpacity[k], showlegend: false, hoverinfo: 'skip'
    });
  });
  const cx = (xd[0] + xd[1]) / 2;
  layout.annotations.push({
    text: p.title, xref: 'paper', yref: 'paper', x: cx, y: yd[1],
    xanchor: 'center', yanchor: 'bottom', yshift: -1.5, borderpad: 0, showarrow: false,
    font: {family: FONT, size: 6, color: '#333'}
  });
  layout.annotations.push({
    text: 'time', xref: 'paper', yref: 'paper', x: cx, y: yd[0],
    xanchor: 'center', yanchor: 'top', yshift: -9, borderpad: 0, showarrow: false,
    font: {family: FONT, size: 6, color: '#333'}
  });
});

// legends (top and bottom)
const swatchX = [95, 127, 163, 202, 232, 269];
[9, 540.7].forEach(ly => {
  seriesNames.forEach((nm, k) => {
    layout.shapes.push({
      type: 'rect', xref: 'paper', yref: 'paper',
      x0: swatchX[k]/W, x1: (swatchX[k]+10)/W,
      y0: 1 - (ly+1.8)/H, y1: 1 - (ly-1.8)/H,
      fillcolor: colors[k], line: {width: 0}
    });
    layout.annotations.push({
      text: nm, xref: 'paper', yref: 'paper',
      x: (swatchX[k]+13)/W, y: 1 - ly/H, xanchor: 'left', yanchor: 'middle',
      borderpad: 0, showarrow: false, font: {family: FONT, size: 4.5, color: '#444'}
    });
  });
});

Plotly.newPlot('chart', traces, layout, {staticPlot: true, displayModeBar: false});
</script>
</body></html>
